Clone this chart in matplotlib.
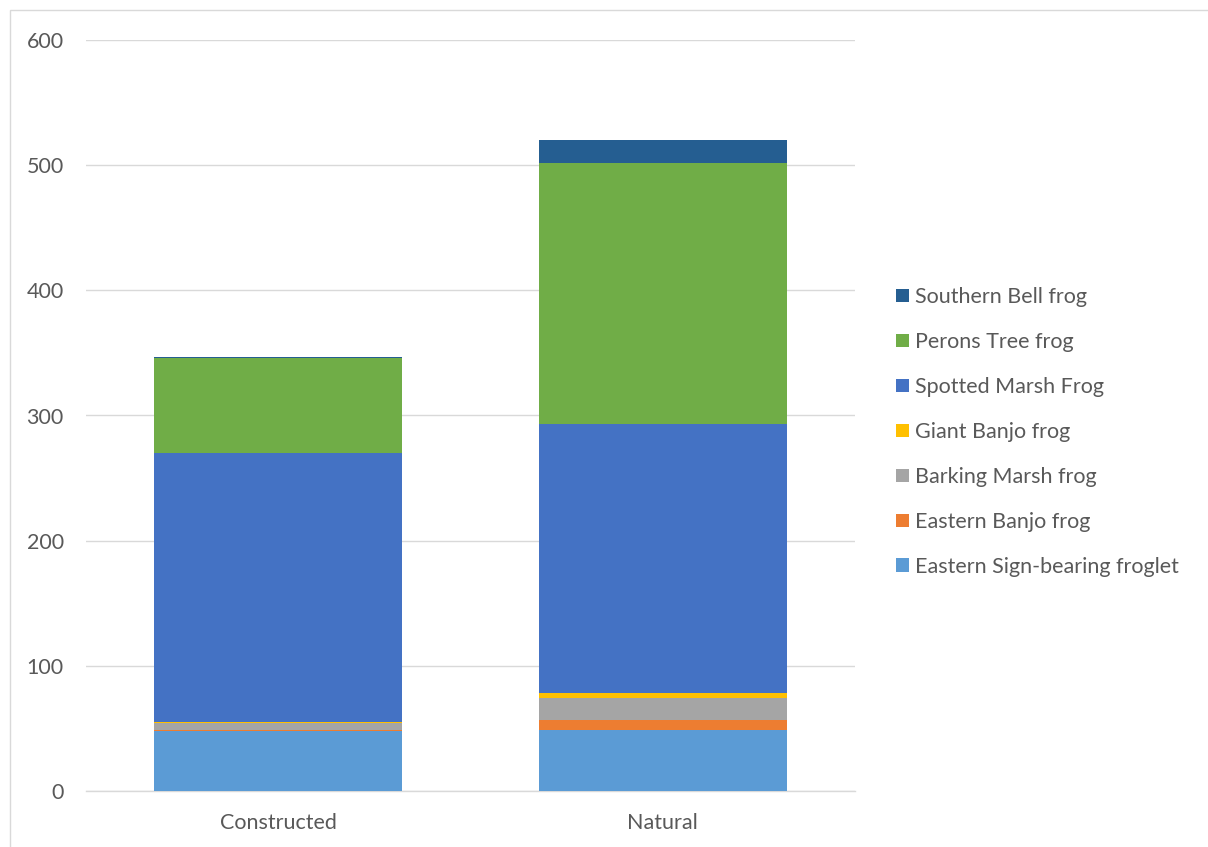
import matplotlib
matplotlib.use("Agg")
import matplotlib.pyplot as plt
from matplotlib.patches import Rectangle
import numpy as np

categories = ["Constructed", "Natural"]
species = ["Eastern Sign-bearing froglet", "Eastern Banjo frog", "Barking Marsh frog",
           "Giant Banjo frog", "Spotted Marsh Frog", "Perons Tree frog", "Southern Bell frog"]
eastern_sign_bearing = [48, 49]
eastern_banjo = [1, 8]
barking_marsh = [5, 17]
giant_banjo = [1, 4]
spotted_marsh = [215, 215]
perons_tree = [76, 209]
southern_bell = [1, 18]
series = [eastern_sign_bearing, eastern_banjo, barking_marsh, giant_banjo,
          spotted_marsh, perons_tree, southern_bell]
colors = ["#5B9BD5", "#ED7D31", "#A5A5A5", "#FFC000", "#4472C4", "#70AD47", "#255E91"]

plt.rcParams['font.family'] = ['Lato', 'DejaVu Sans']

fig = plt.figure(figsize=(12.08, 8.47), dpi=100)
ax = fig.add_axes([86/1208, 1-791/847, (855-86)/1208, (791-40)/847])

x = np.arange(len(categories))
bottom = np.zeros(len(categories))
handles = []
for vals, name, c in zip(series, species, colors):
    b = ax.bar(x, vals, width=0.645, bottom=bottom, color=c, label=name,
               linewidth=0, zorder=3)
    handles.append(b)
    bottom += np.array(vals)

ax.set_xlim(-0.5, 1.5)
ax.set_ylim(0, 600)
ax.set_yticks(range(0, 601, 100))
ax.set_xticks(x)
ax.set_xticklabels(categories)
ax.grid(axis='y', color='#D9D9D9', linewidth=1, zorder=0)
for s in ['top', 'right', 'left']:
    ax.spines[s].set_visible(False)
ax.spines['bottom'].set_color('#D9D9D9')
ax.spines['bottom'].set_linewidth(1)
ax.tick_params(axis='both', length=0, labelsize=15.5, colors='#595959')
ax.tick_params(axis='y', pad=16)
ax.tick_params(axis='x', pad=16)

leg = fig.legend(handles[::-1], species[::-1], loc='center left',
                 bbox_to_anchor=(896/1208, 1-432/847), frameon=False,
                 fontsize=15.5, labelcolor='#595959', handlelength=0.6,
                 handleheight=0.6, handletextpad=0.3, labelspacing=1.16,
                 borderpad=0, borderaxespad=0)

fig.patches.append(Rectangle((10/1208, -0.1), 1.2, 1-10/847+0.1, transform=fig.transFigure,
                             fill=False, edgecolor='#D9D9D9', linewidth=1))

fig.savefig("out.png", dpi=100)
